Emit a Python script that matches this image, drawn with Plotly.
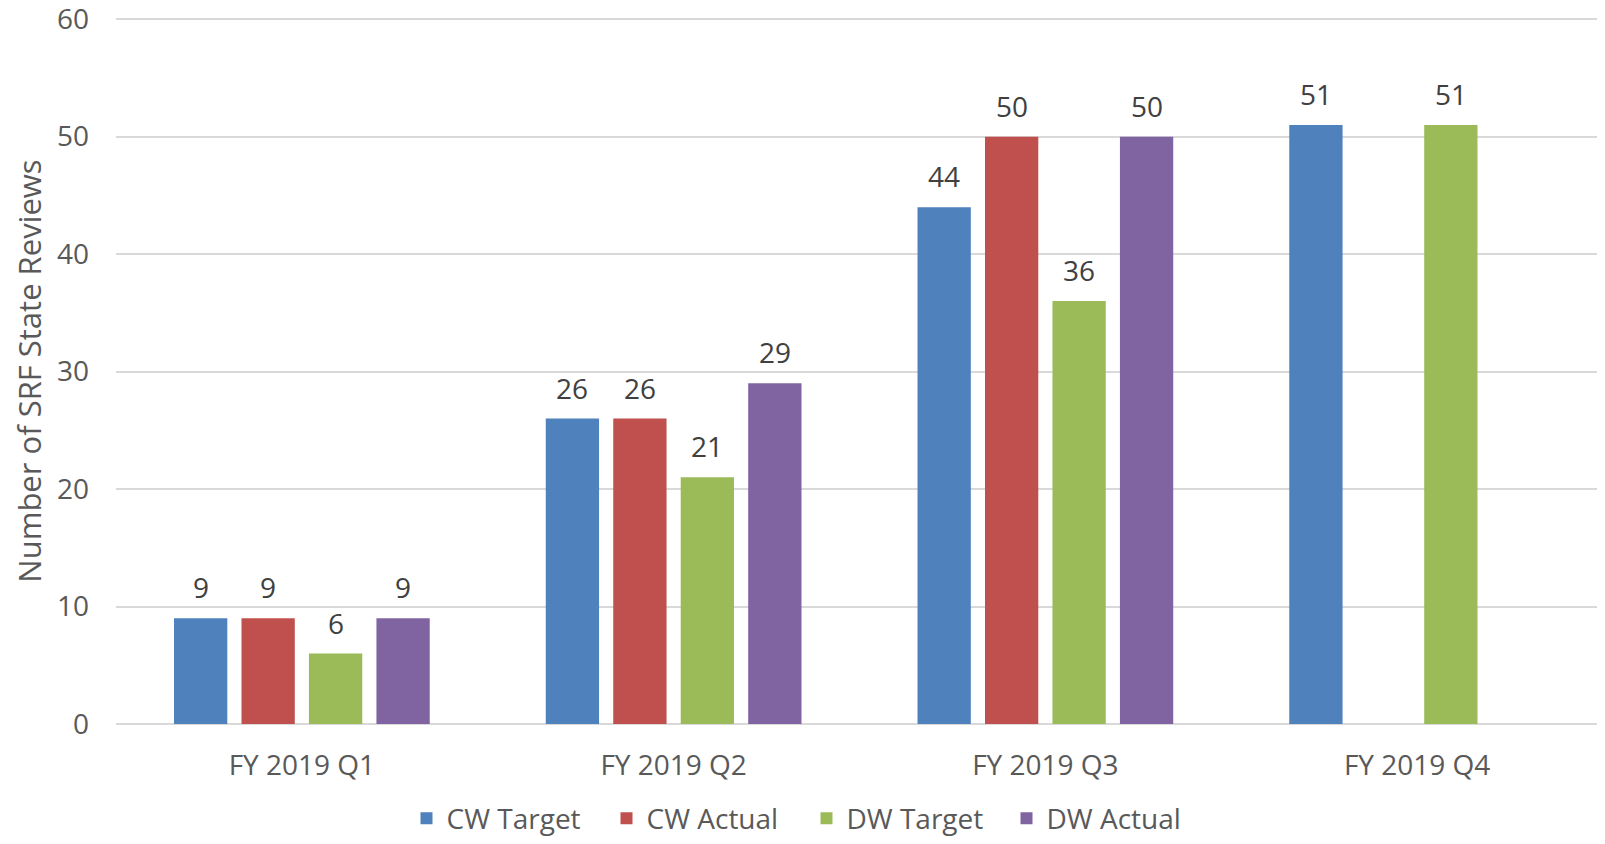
import plotly.graph_objects as go

categories = ["FY 2019 Q1", "FY 2019 Q2", "FY 2019 Q3", "FY 2019 Q4"]
series_names = ["CW Target", "CW Actual", "DW Target", "DW Actual"]
cw_target = [9, 26, 44, 51]
cw_actual = [9, 26, 50, None]
dw_target = [6, 21, 36, 51]
dw_actual = [9, 29, 50, None]
y_ticks = [0, 10, 20, 30, 40, 50, 60]

colors = ["#4F81BD", "#C0504D", "#9BBB59", "#8064A2"]
all_values = [cw_target, cw_actual, dw_target, dw_actual]

# page body has an 8px default margin, so size the figure to fit the window
W, H = 1597, 828
ML, MR, MT, MB = 108, 2, 10, 112
Y_MAX = 60.1
BARGAP = 0.274
BARGROUPGAP = 0.21
FONT = "Open Sans"

fig = go.Figure()
for name, vals, col in zip(series_names, all_values, colors):
    fig.add_trace(go.Bar(
        name=name, x=categories, y=vals,
        marker=dict(color=col, line=dict(width=0)),
        hoverinfo="y",
    ))

# data labels as annotations, positioned from data
plot_w = W - ML - MR
cat_w = plot_w / len(categories)
slot = (1 - BARGAP) * cat_w / len(series_names)
annotations = []
for i, vals in enumerate(all_values):
    shift = (i - (len(series_names) - 1) / 2) * slot
    for c, v in zip(categories, vals):
        if v is None:
            continue
        annotations.append(dict(
            x=c, y=v, xref="x", yref="y", text=str(v), showarrow=False,
            xshift=shift, yshift=31, yanchor="middle",
            font=dict(family=FONT, size=28, color="#404040"),
        ))

fig.update_layout(
    width=W, height=H,
    margin=dict(l=ML, r=MR, t=MT, b=MB, autoexpand=False),
    paper_bgcolor="white", plot_bgcolor="white",
    barmode="group", bargap=BARGAP, bargroupgap=BARGROUPGAP,
    font=dict(family=FONT, size=28, color="#595959"),
    annotations=annotations,
    showlegend=True,
    legend=dict(
        orientation="h", x=0.5, xanchor="center", xref="container",
        y=0.021, yref="container", yanchor="middle",
        font=dict(family=FONT, size=28, color="#595959"),
        entrywidth=155, entrywidthmode="pixels",
        traceorder="normal",
    ),
    xaxis=dict(
        showgrid=False, showline=False, ticks="", automargin=False,
        tickfont=dict(family=FONT, size=28, color="#595959"),
        ticklabelstandoff=22,
    ),
    yaxis=dict(
        range=[0, Y_MAX], tickvals=y_ticks, showgrid=True, automargin=False,
        gridcolor="#D9D9D9", gridwidth=1.5,
        zeroline=True, zerolinecolor="#D9D9D9", zerolinewidth=1.5,
        showline=False, ticks="", ticklabeloverflow="allow",
        tickfont=dict(family=FONT, size=28, color="#595959"),
        ticklabelstandoff=26,
        title=dict(text="Number of SRF State Reviews", standoff=10,
                   font=dict(family=FONT, size=31, color="#595959")),
    ),
)

fig.write_html("out.html")
